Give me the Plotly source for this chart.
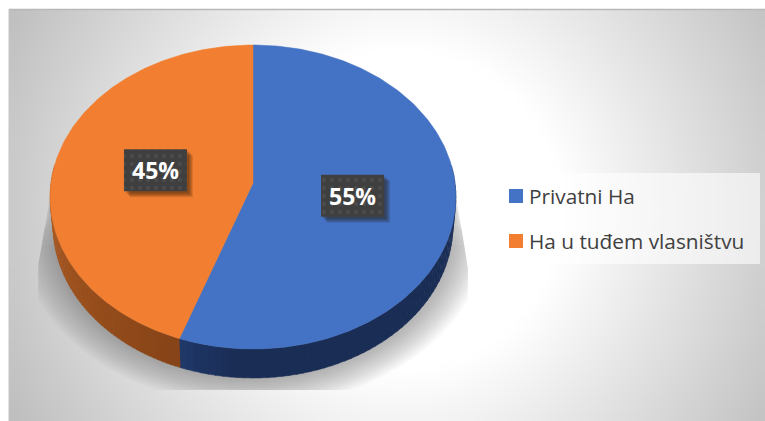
import numpy as np
import plotly.graph_objects as go

# ---- data
categories = ["Privatni Ha", "Ha u tuđem vlasništvu"]
shares = [55.4, 44.6]
slice_colors = ["#4472c4", "#f27f31"]
wall_dark = [(26, 45, 85), (135, 68, 24)]
wall_light = [(31, 56, 104), (178, 94, 35)]

W, H = 765, 421
VX, VY = 253.0, 183.0   # apparent pie vertex
A, B, K = 202.0, 150.7, 0.0921  # tilted-disc projection
DEPTH = 29.0


def project(theta, shrink=1.0, dy=0.0):
    u, v = np.sin(theta), np.cos(theta)
    d = 1 + K * v
    return VX + shrink * A * u / d, VY - B * v / d + dy


fig = go.Figure()

# background: radial gradient (bin edges, so the area stops exactly at the frame)
gx = np.linspace(9, W, 65)
gy = np.linspace(10, H, 37)
X, Y = np.meshgrid((gx[:-1] + gx[1:]) / 2, (gy[:-1] + gy[1:]) / 2)
D = np.hypot(X - 400, Y - 210)
Z = np.clip(255 - (D - 160) * 63 / 270, 185, 255)
fig.add_trace(go.Heatmap(x=gx, y=gy, z=Z, zmin=0, zmax=255, zsmooth="best", showscale=False,
                         colorscale=[[0, "rgb(0,0,0)"], [1, "rgb(255,255,255)"]], hoverinfo="skip"))

# soft shadow under the disc
full = np.linspace(0, 2 * np.pi, 361)
for grow in np.arange(34, -1, -2.0):
    sx, sy = project(full)
    cx, cy = VX, 197.0
    sx2 = cx + (sx - cx) * (1 + grow / 190) * 0.985
    sy2 = cy + (sy - cy) * (1 + grow / 190) + 30
    top_x = cx + (sx - cx) * (1 + grow / 600)
    hx = np.where(sy2 > cy + 30, sx2, top_x)
    hy = np.where(sy2 > cy + 30, sy2, sy)
    left = np.where(hy < 267, 56 - 18 * np.clip(hy - 160, 0, None) / 107, 38.0)
    right = np.where(hy < 267, 450 + 18 * np.clip(hy - 160, 0, None) / 107, 468.0)
    hx = np.clip(hx, left, right)
    hy = np.clip(hy, 160 + grow * 2.5, 390)
    fig.add_trace(go.Scatter(x=hx, y=hy, mode="lines", line=dict(width=0), fill="toself",
                             fillcolor="rgba(90,90,90,0.032)", hoverinfo="skip", showlegend=False))

# slice angular extents
total = sum(shares)
edges = np.cumsum([0] + shares) / total * 2 * np.pi

# side wall, visible on the lower half only
for i in range(len(shares)):
    lo = max(edges[i], np.pi * 0.5 - 0.12)
    hi = min(edges[i + 1], np.pi * 1.5 + 0.12)
    steps = np.linspace(lo, hi, 61)
    n = len(steps) - 1
    for j in range(n):
        t = np.linspace(steps[j], steps[j + 1] + 0.004, 4)
        x1, y1 = project(t)
        x2, y2 = project(t[::-1], 0.985, DEPTH)
        s = j / (n - 1) if i == 1 else 1 - j / (n - 1)  # 0 at the seam
        g = s if i == 1 else max(0.0, 1 - s / 0.12)
        c = [wall_dark[i][q] + (wall_light[i][q] - wall_dark[i][q]) * g for q in range(3)]
        col = "rgb(%d,%d,%d)" % tuple(c)
        fig.add_trace(go.Scatter(x=np.r_[x1, x2], y=np.r_[y1, y2], mode="lines", fill="toself",
                                 line=dict(width=0.5, color=col), fillcolor=col,
                                 hoverinfo="skip", showlegend=False))

# top faces
for i, name in enumerate(categories):
    t = np.linspace(edges[i], edges[i + 1], 200)
    x, y = project(t)
    fig.add_trace(go.Scatter(x=np.r_[VX, x, VX], y=np.r_[VY, y, VY], mode="lines", fill="toself",
                             line=dict(width=0.5, color=slice_colors[i]), fillcolor=slice_colors[i],
                             hovertext=name, hoverinfo="text", showlegend=False))

# data labels
BW, BH = 63, 42
for i, share in enumerate(shares):
    mid = (edges[i] + edges[i + 1]) / 2
    lx = VX + 0.5 * A * np.sin(mid) + (2 if i == 1 else 0)
    ly = VY - 0.5 * B * np.cos(mid)
    bx = np.array([lx - BW / 2, lx + BW / 2, lx + BW / 2, lx - BW / 2, lx - BW / 2])
    by = np.array([ly - BH / 2, ly - BH / 2, ly + BH / 2, ly + BH / 2, ly - BH / 2])
    for off in (7, 6, 5, 4, 3):
        fig.add_trace(go.Scatter(x=bx + off - 1, y=by + off - 1, mode="lines", line=dict(width=0), fill="toself",
                                 fillcolor="rgba(40,20,0,0.13)", hoverinfo="skip", showlegend=False))
    fig.add_trace(go.Scatter(x=bx, y=by, mode="lines", line=dict(width=0), fill="toself",
                             fillcolor="#3f3f3f",
                             fillpattern=dict(shape=".", fgcolor="#5a5a5a", bgcolor="#3f3f3f", size=8, solidity=0.18),
                             hoverinfo="skip", showlegend=False))
    fig.add_annotation(x=lx, y=ly, text="<b>%d%%</b>" % round(share), showarrow=False,
                       font=dict(family="Open Sans", size=23, color="#ffffff"))

# legend
fig.add_trace(go.Scatter(x=[496, 760, 760, 496, 496], y=[173, 173, 264, 264, 173], mode="lines",
                         line=dict(width=0), fill="toself", fillcolor="rgba(255,255,255,0.6)",
                         hoverinfo="skip", showlegend=False))
LEG_X, LEG_Y0, LEG_DY = 516, 196, 45
for i, name in enumerate(categories):
    fig.add_trace(go.Scatter(x=[LEG_X], y=[LEG_Y0 + i * LEG_DY], mode="markers", hoverinfo="skip", showlegend=False,
                             marker=dict(symbol="square", size=14, color=slice_colors[i], line=dict(width=0))))
    fig.add_annotation(x=LEG_X + 13, y=LEG_Y0 + i * LEG_DY, xanchor="left", text=name, showarrow=False, xshift=-2,
                       font=dict(family="Open Sans", size=20.8, color="#404040"))

fig.update_layout(
    width=W, height=H, autosize=False, margin=dict(l=0, r=0, t=0, b=0),
    paper_bgcolor="#ffffff", plot_bgcolor="#ffffff", showlegend=False,
    xaxis=dict(range=[0, W], visible=False, fixedrange=True),
    yaxis=dict(range=[H, 0], visible=False, fixedrange=True),
    shapes=[dict(type="line", x0=9, x1=W, y0=9.5, y1=9.5, line=dict(color="#b8b8b8", width=1.5), layer="above"),
            dict(type="line", x0=9, x1=9, y0=9, y1=H, line=dict(color="#c4c4c4", width=1), layer="above")],
)
fig.write_html("out.html", config=dict(displayModeBar=False),
               post_script="document.body.style.margin='0';document.documentElement.style.overflow='hidden';")
